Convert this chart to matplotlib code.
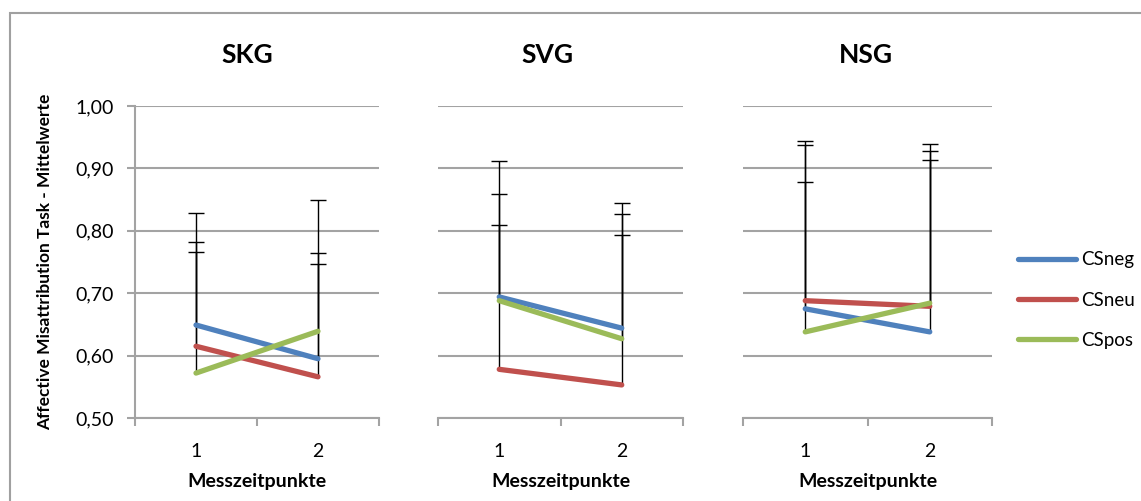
import matplotlib.pyplot as plt
import matplotlib.patches as patches

plt.rcParams['font.family'] = ['Lato', 'DejaVu Sans']

groups = ['SKG', 'SVG', 'NSG']
timepoints = [1, 2]
series = ['CSneg', 'CSneu', 'CSpos']
colors = ['#4F81BD', '#C0504D', '#9BBB59']

# mean values per group, series -> [t1, t2]
means_skg = [[0.649, 0.595], [0.615, 0.566], [0.572, 0.639]]
means_svg = [[0.694, 0.644], [0.578, 0.553], [0.688, 0.627]]
means_nsg = [[0.675, 0.638], [0.688, 0.679], [0.638, 0.684]]

# positive error bars (upper only)
err_skg = [[0.133, 0.169], [0.151, 0.181], [0.257, 0.210]]
err_svg = [[0.218, 0.200], [0.231, 0.240], [0.171, 0.200]]
err_nsg = [[0.269, 0.275], [0.190, 0.260], [0.300, 0.244]]

yticks = [0.5, 0.6, 0.7, 0.8, 0.9, 1.0]
ytick_labels = ['0,50', '0,60', '0,70', '0,80', '0,90', '1,00']

W, H = 1141, 501
fig = plt.figure(figsize=(W / 100, H / 100), dpi=100)

# outer chart frame
fig.patches.append(patches.Rectangle((10 / W, -0.1), 1.2, 1 - 13 / H + 0.1,
                                     transform=fig.transFigure, fill=False,
                                     edgecolor='#a0a0a0', linewidth=1.5))

panel_px = [(135, 379), (438, 683), (743, 992)]
title_x = [247, 547, 866]
bottom = 1 - 418 / H
height = (418 - 106) / H
grid_c = '#a3a3a3'

all_means = [means_skg, means_svg, means_nsg]
all_errs = [err_skg, err_svg, err_nsg]

axes = []
for i, (x0, x1) in enumerate(panel_px):
    ax = fig.add_axes([x0 / W, bottom, (x1 - x0) / W, height])
    axes.append(ax)
    means = all_means[i]
    errs = all_errs[i]

    for m, e in zip(means, errs):
        tops = [a + b for a, b in zip(m, e)]
        ax.vlines(timepoints, m, tops, color='black', linewidth=1, zorder=2)
        ax.plot(timepoints, tops, ls='none', marker='_', ms=12, mew=1,
                color='black', zorder=2)
    for name, m, c in zip(series, means, colors):
        ax.plot(timepoints, m, color=c, linewidth=3.8, solid_capstyle='round',
                label=name, zorder=3)

    ax.set_xlim(0.5, 2.5)
    ax.set_ylim(0.5, 1.0)
    ax.set_yticks(yticks)
    ax.yaxis.grid(True, color=grid_c, linewidth=1.5)
    ax.set_axisbelow(True)

    ax.set_xticks([0.5, 1.5, 2.5])
    ax.set_xticklabels([])
    ax.set_xticks(timepoints, minor=True)
    ax.set_xticklabels([str(t) for t in timepoints], minor=True)
    ax.tick_params(axis='x', which='major', length=6, width=1.5, color=grid_c,
                   direction='out')
    ax.tick_params(axis='x', which='minor', length=0, pad=18, labelsize=14)

    for s in ['top', 'right']:
        ax.spines[s].set_visible(False)
    ax.spines['bottom'].set_color(grid_c)
    ax.spines['bottom'].set_linewidth(1.5)

    if i == 0:
        ax.spines['left'].set_color(grid_c)
        ax.spines['left'].set_linewidth(1.5)
        ax.set_yticklabels(ytick_labels)
        ax.tick_params(axis='y', length=6, width=1.5, color=grid_c, pad=9,
                       labelsize=14)
    else:
        ax.spines['left'].set_visible(False)
        ax.tick_params(axis='y', length=0, labelleft=False)

    ax.set_xlabel('Messzeitpunkte', fontsize=14, fontweight='bold', labelpad=9)
    fig.text(title_x[i] / W, 1 - 55 / H, groups[i], fontsize=19,
             fontweight='bold', ha='center', va='center')

fig.text(45 / W, 1 - 262 / H, 'Affective Misattribution Task - Mittelwerte',
         rotation=90, fontsize=12.5, fontweight='bold', ha='center', va='center')

handles, labels = axes[0].get_legend_handles_labels()
fig.legend(handles, labels, loc='center left',
           bbox_to_anchor=(1018 / W, 1 - 300 / H), frameon=False,
           fontsize=13.5, handlelength=3.1, handletextpad=0.25,
           labelspacing=1.25, borderpad=0, borderaxespad=0)

fig.savefig('out.png', dpi=100)
